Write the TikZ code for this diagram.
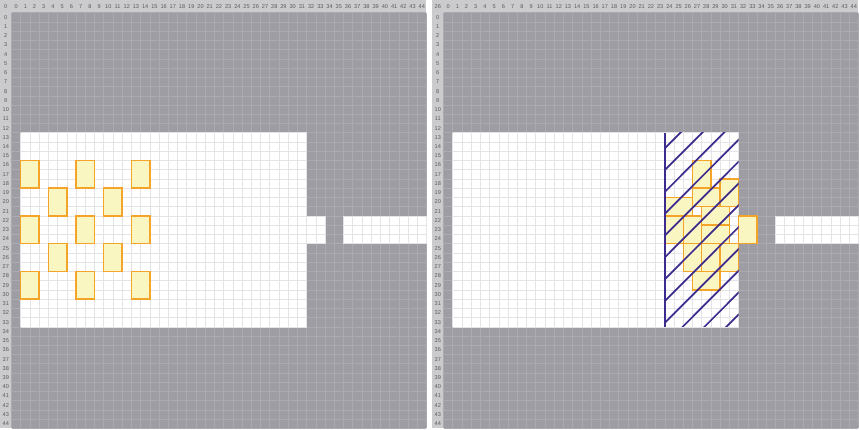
\documentclass[tikz,border=0pt]{standalone}
\usepackage{fontspec}
\setmainfont{Liberation Sans}
\definecolor{bgray}{HTML}{9E9DA3}
\definecolor{ggray}{HTML}{ABAAB0}
\definecolor{wline}{HTML}{E4E4E6}
\definecolor{stripc}{HTML}{CBCBCD}
\definecolor{labc}{HTML}{5A5A5E}
\definecolor{boxfill}{HTML}{FAF6C2}
\definecolor{boxdraw}{HTML}{F5A42A}
\definecolor{hatchc}{HTML}{3D2C8D}
\tikzset{
  crate/.style={fill=boxfill, draw=boxdraw, line width=1.05pt},
  lab/.style={inner sep=0pt, text=labc, font=\fontsize{4.2}{4.2}\selectfont},
  hatchline/.style={draw=hatchc, line width=1.3pt},
  wallline/.style={draw=hatchc, line width=1.8pt},
  cellline/.style={line width=0.35pt}
}
% #1 x0, #2 y0, #3 x1, #4 y1, #5 colour
\newcommand{\cellgrid}[5]{%
  \foreach \gx in {#1,...,#3} \draw[#5, cellline] (\gx,#2) -- (\gx,#4);
  \foreach \gy in {#2,...,#4} \draw[#5, cellline] (#1,\gy) -- (#3,\gy);
}
\newcommand{\gridpanel}[1]{%
  \fill[stripc] (-1.25,-1.36) rectangle (45,45);
  \fill[bgray] (0,0) rectangle (45,45);
  \cellgrid{0}{0}{45}{45}{ggray}
  \fill[white] (1,13) rectangle (32,34);
  \fill[white] (32,22) rectangle (34,25);
  \fill[white] (36,22) rectangle (45,25);
  \cellgrid{1}{13}{32}{34}{wline}
  \cellgrid{32}{22}{34}{25}{wline}
  \cellgrid{36}{22}{45}{25}{wline}
  \foreach \i in {0,...,44} {
    \node[lab] (c#1\i) at (\i+0.5,-0.68) {\i};
    \node[lab] (r#1\i) at (-0.62,\i+0.5) {\i};
  }
}
\begin{document}
\begin{tikzpicture}[x=0.75pt,y=-0.75pt]
\useasboundingbox (0,0) rectangle (860,429);
\fill[white] (0,0) rectangle (860,429);
% left panel
\begin{scope}[shift={(11.5,12.6)}, x=6.915pt, y=-6.93pt]
  \gridpanel{L}
  \node[lab] (cornerL) at (-0.62,-0.68) {0};
  \foreach \cx/\cy in {1/16,7/16,13/16,4/19,10/19,1/22,7/22,13/22,4/25,10/25,1/28,7/28,13/28}
    \draw[crate] (\cx,\cy) rectangle ++(2,3);
\end{scope}
% right panel
\begin{scope}[shift={(443.5,12.6)}, x=6.915pt, y=-6.93pt]
  \gridpanel{R}
  \node[lab] (cornerR) at (-0.62,-0.68) {26};
  \foreach \cx/\cy/\w/\h in {27/16/2/3,30/18/2/3,27/19/3/2,24/20/3/2,28/21/3/2,24/22/2/3,26/22/2/3,28/23/3/2,26/25/2/3,28/25/2/3,30/25/2/3,27/28/3/2,32/22/2/3}
    \draw[crate] (\cx,\cy) rectangle ++(\w,\h);
  \begin{scope}
    \clip (24,13) rectangle (32,34);
    \foreach \k in {-12,...,6}
      \draw[hatchline] ({52.86+2.362*\k-40},40) -- ({52.86+2.362*\k-10},10);
  \end{scope}
  \coordinate (wtop) at (24,13);
  \coordinate (wbot) at (24,34);
  \draw[wallline] (wtop) -- (wbot);
\end{scope}
\end{tikzpicture}
\end{document}
